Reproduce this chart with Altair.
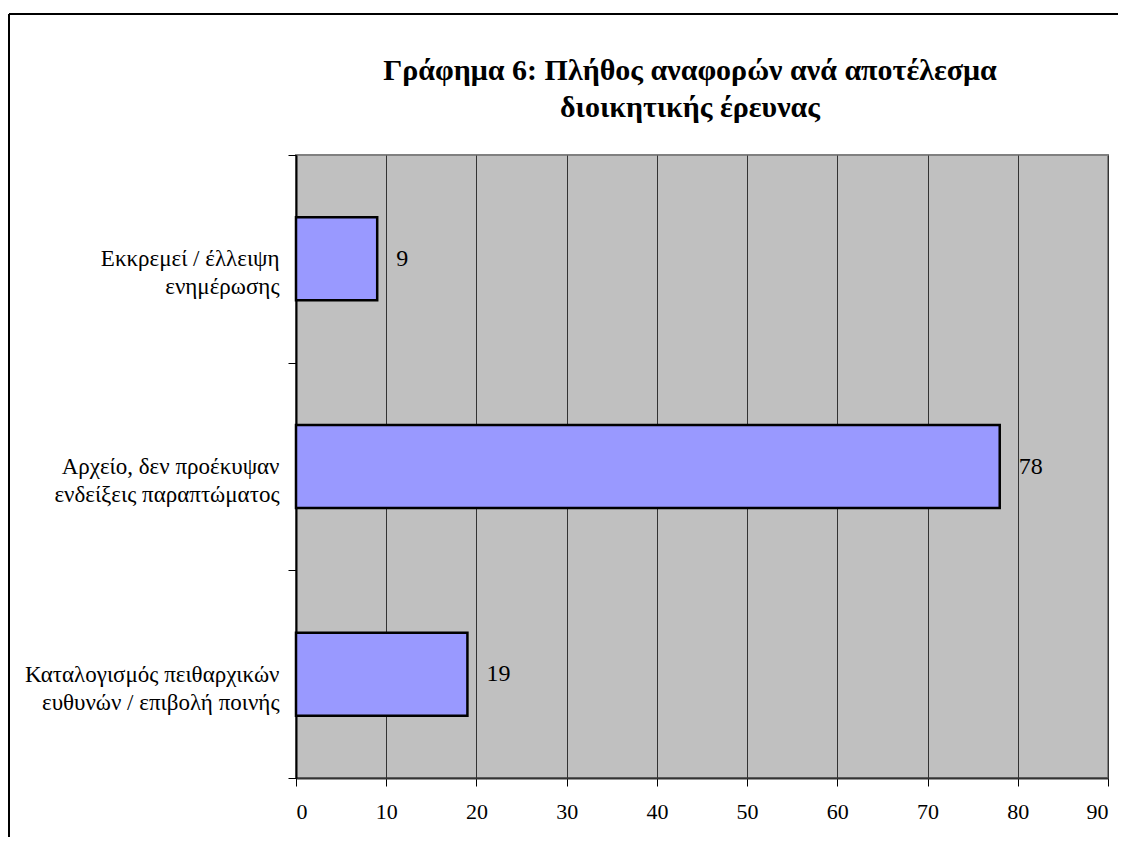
import altair as alt
import pandas as pd

categories = [
    "Εκκρεμεί / έλλειψη\nενημέρωσης",
    "Αρχείο, δεν προέκυψαν\nενδείξεις παραπτώματος",
    "Καταλογισμός πειθαρχικών\nευθυνών / επιβολή ποινής",
]
values = [9, 78, 19]
x_ticks = [0, 10, 20, 30, 40, 50, 60, 70, 80, 90]
title_lines = ["Γράφημα 6: Πλήθος αναφορών ανά αποτέλεσμα", "διοικητικής έρευνας"]

df = pd.DataFrame({"cat": categories, "val": values})

FONT = "Liberation Serif, Times New Roman, serif"

y_enc = alt.Y(
    "cat:N",
    sort=categories,
    title=None,
    scale=alt.Scale(paddingInner=0, paddingOuter=0),
    axis=alt.Axis(
        labelExpr="split(datum.label, '\\n')",
        labelFont=FONT,
        labelFontSize=23,
        labelColor="black",
        labelAlign="right",
        labelBaseline="middle",
        labelLineHeight=28,
        labelLimit=400,
        labelPadding=9,
        tickBand="extent",
        tickSize=8,
        tickColor="black",
        tickWidth=1,
        domainColor="black",
        domainWidth=2,
        grid=False,
    ),
)

x_enc = alt.X(
    "val:Q",
    title=None,
    scale=alt.Scale(domain=[0, 90], nice=False),
    axis=alt.Axis(
        values=x_ticks,
        labelFont=FONT,
        labelFontSize=22,
        labelColor="black",
        labelPadding=15,
        tickSize=8,
        tickColor="black",
        domainColor="#333333",
        domainWidth=2,
        grid=True,
        gridColor="#333333",
        gridWidth=1,
    ),
)

bars = alt.Chart(df).mark_bar(
    size=83, fill="#9999FF", stroke="black", strokeWidth=2.5
).encode(x=x_enc, y=y_enc)

labels = alt.Chart(df).mark_text(
    align="left", baseline="middle", dx=19, font=FONT, fontSize=24, color="black"
).encode(x="val:Q", y=alt.Y("cat:N", sort=categories), text="val:Q")

frame = alt.Chart(alt.Data(values=[{"a": 1}])).mark_rule(color="black", strokeWidth=2)
frame_left = frame.encode(x=alt.value(-287), y=alt.value(-141), y2=alt.value(700))
frame_top = frame.encode(x=alt.value(-287), x2=alt.value(850), y=alt.value(-141))

chart = alt.layer(bars, labels, frame_left, frame_top).properties(
    width=812,
    height=623,
    title=alt.TitleParams(
        text=title_lines,
        font=FONT,
        fontSize=30,
        fontWeight="bold",
        color="black",
        anchor="middle",
        frame="group",
        dx=-12,
        offset=-110,
        lineHeight=37,
    ),
    autosize=alt.AutoSizeParams(type="none"),
    padding={"left": 288, "top": 147, "right": 10, "bottom": 59},
).configure_view(
    fill="#C0C0C0", stroke="#808080", strokeWidth=2
)

chart.save("out.html", embed_options={"renderer": "svg", "actions": False})
